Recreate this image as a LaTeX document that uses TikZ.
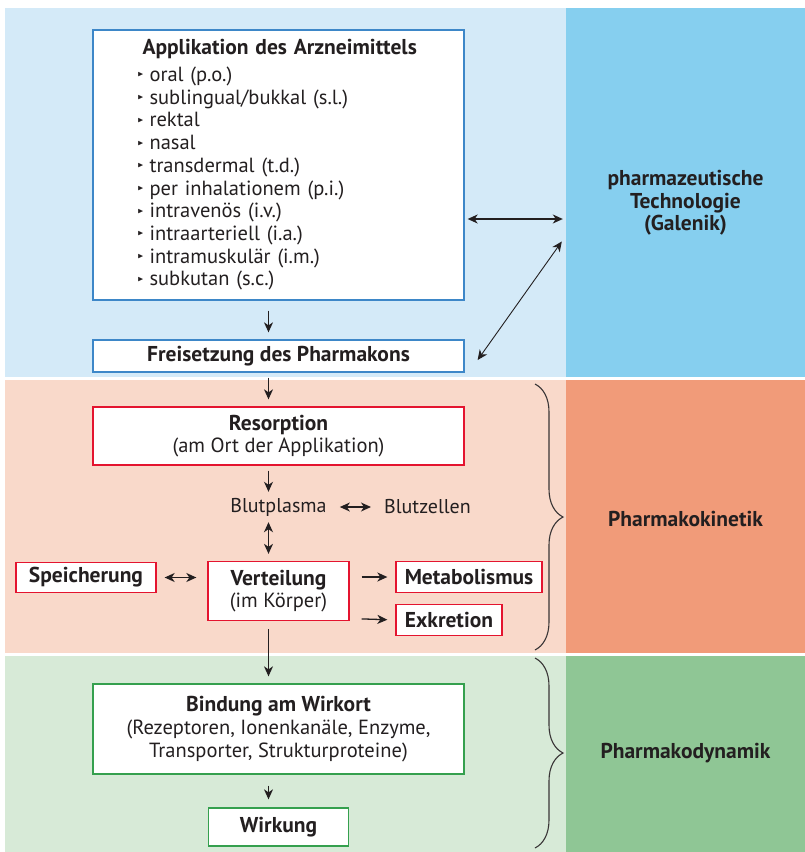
\documentclass[tikz,border=0pt]{standalone}
\usepackage{fontspec}
\setmainfont{PT Sans}
\usepackage{amssymb}
\usepackage{graphicx}
\usetikzlibrary{arrows.meta, decorations.pathreplacing, calc}

\definecolor{bandblue}{HTML}{D4EAF8}
\definecolor{colblue}{HTML}{86CFEF}
\definecolor{lineblue}{HTML}{3D87C8}
\definecolor{bandred}{HTML}{F9D9CA}
\definecolor{colred}{HTML}{F19B79}
\definecolor{linered}{HTML}{E4142F}
\definecolor{bandgreen}{HTML}{D7EAD7}
\definecolor{colgreen}{HTML}{8FC695}
\definecolor{linegreen}{HTML}{35A04E}
\definecolor{ink}{HTML}{231F20}

\newcommand{\listtri}{\raisebox{0.45ex}{\scalebox{0.38}{$\blacktriangleright$}}\hspace{6pt}}
\newcommand{\hd}[1]{{\fontsize{21.5}{22.7}\selectfont\bfseries #1}}

\begin{document}
\begin{tikzpicture}[x=1pt,y=-1pt,>={Stealth[length=10pt,width=9pt,inset=3pt]},
	every node/.style={font=\fontsize{20.5}{22.7}\selectfont,text=ink},
	box/.style={draw,fill=white,line width=1.3pt,inner sep=0pt,align=center},
	bluebox/.style={box,draw=lineblue},
	redbox/.style={box,draw=linered},
	greenbox/.style={box,draw=linegreen},
	boldtext/.style={font=\fontsize{21.5}{22.7}\selectfont\bfseries},
	blood/.style={inner sep=0pt,minimum height=26pt,font=\fontsize{20}{22.7}\selectfont},
	col/.style={inner sep=0pt,minimum width=239pt},
	collabel/.style={align=center,font=\fontsize{21.5}{22.7}\selectfont\bfseries},
	pfeil/.style={->,line width=1.3pt,draw=ink},
	dpfeil/.style={<->,line width=1.3pt,draw=ink},
	klammer/.style={decorate,decoration={brace,amplitude=28pt},line width=1.1pt,draw=ink!90}]
	\useasboundingbox (0,0) rectangle (805,852);
	% bands
	\fill[bandblue]		(5,8)	rectangle (566,377);
	\fill[bandred]		(5,380)	rectangle (566,653);
	\fill[bandgreen]	(5,656)	rectangle (566,852);
	\node[col,fill=colblue,minimum height=369pt]	(techcol)	at (685.5,192.5)	{};
	\node[col,fill=colred,minimum height=273pt]		(kincol)	at (685.5,516.5)	{};
	\node[col,fill=colgreen,minimum height=196pt]	(dyncol)	at (685.5,754)		{};
	\node[collabel]	(tech)	at (685.5,203)	{pharmazeutische\\Technologie\\(Galenik)};
	\node[collabel]	(kin)	at (685.5,519)	{Pharmakokinetik};
	\node[collabel]	(dyn)	at (685.5,753)	{Pharmakodynamik};
	% boxes
	\node[bluebox,text width=282pt,inner xsep=44.5pt,minimum height=270pt,align=left]	(app)	at (278.5,165)
		{\hspace*{5pt}\hd{Applikation des Arzneimittels}\\[4pt]
		\listtri oral (p.o.)\\
		\listtri sublingual/bukkal (s.l.)\\
		\listtri rektal\\
		\listtri nasal\\
		\listtri transdermal (t.d.)\\
		\listtri per inhalationem (p.i.)\\
		\listtri intravenös (i.v.)\\
		\listtri intraarteriell (i.a.)\\
		\listtri intramuskulär (i.m.)\\
		\listtri subkutan (s.c.)};
	\node[bluebox,boldtext,minimum width=371pt,minimum height=32pt]	(frei)	[below of=app,node distance=191pt]	{Freisetzung des Pharmakons};
	\node[redbox,minimum width=371pt,minimum height=58pt]			(res)	[below of=frei,node distance=80pt]	{\hd{Resorption}\\(am Ort der Applikation)};
	\node[blood]	(blp)	[below of=res,node distance=71pt]	{Blutplasma};
	\node[blood]	(blz)	[right of=blp,node distance=149pt]	{Blutzellen};
	\node[redbox,minimum width=141pt,minimum height=59pt]			(vert)	[below of=blp,node distance=84pt]	{\hd{Verteilung}\\(im Körper)};
	\node[redbox,boldtext,minimum width=140pt,minimum height=30pt]	(speich)	at (86,577.5)	{Speicherung};
	\node[redbox,boldtext,minimum width=146pt,minimum height=31pt]	(metab)		at (469,577)	{Metabolismus};
	\node[redbox,boldtext,minimum width=106pt,minimum height=31pt]	(exkr)		at (449,620)	{Exkretion};
	\node[greenbox,minimum width=371pt,minimum height=90pt]			(bind)	[below of=vert,node distance=138pt]
		{\hd{Bindung am Wirkort}\\(Rezeptoren, Ionenkanäle, Enzyme,\\Transporter, Strukturproteine)};
	\node[greenbox,boldtext,minimum width=140pt,minimum height=38pt]	(wirk)	[below of=bind,node distance=98pt]	{Wirkung};
	% connectors
	\coordinate (ax) at (268.5,0);
	\coordinate (hy) at (0,219);
	\draw[pfeil,shorten <=10pt,shorten >=7pt]	(app.south -| ax)	-- (frei.north -| ax);
	\draw[pfeil,shorten <=5pt,shorten >=7pt]	(frei.south -| ax)	-- (res.north -| ax);
	\draw[pfeil,shorten <=5pt,shorten >=2pt]	(res.south -| ax)	-- (blp.north -| ax);
	\draw[dpfeil,shorten <=2pt,shorten >=7pt]	(blp.south -| ax)	-- (vert.north -| ax);
	\draw[dpfeil,shorten <=13pt,shorten >=13pt]	(blp.east)			-- (blz.west);
	\draw[dpfeil,shorten <=8pt,shorten >=11pt]	(speich.east)		-- (vert.west |- speich);
	\draw[pfeil,shorten <=12pt,shorten >=8pt]	(vert.east |- metab)	-- (metab.west);
	\draw[pfeil,shorten <=12pt,shorten >=8pt]	($(vert.east |- exkr)+(0,-1.5)$)	-- (exkr.west);
	\draw[pfeil,shorten <=8pt,shorten >=7pt]	(vert.south -| ax)	-- (bind.north -| ax);
	\draw[pfeil,shorten <=11pt,shorten >=8pt]	(bind.south -| ax)	-- (wirk.north -| ax);
	\draw[dpfeil,shorten <=3pt,shorten >=3pt]	(app.east |- hy)	-- (techcol.west |- hy);
	\draw[dpfeil,line width=0.9pt]	($(frei.east)+(13,4)$)	-- ($(techcol.west)+(-4,49)$);
	% braces
	\draw[klammer] (535,384) -- (535,650);
	\draw[klammer] (535,658) -- (535,848);
\end{tikzpicture}
\end{document}
